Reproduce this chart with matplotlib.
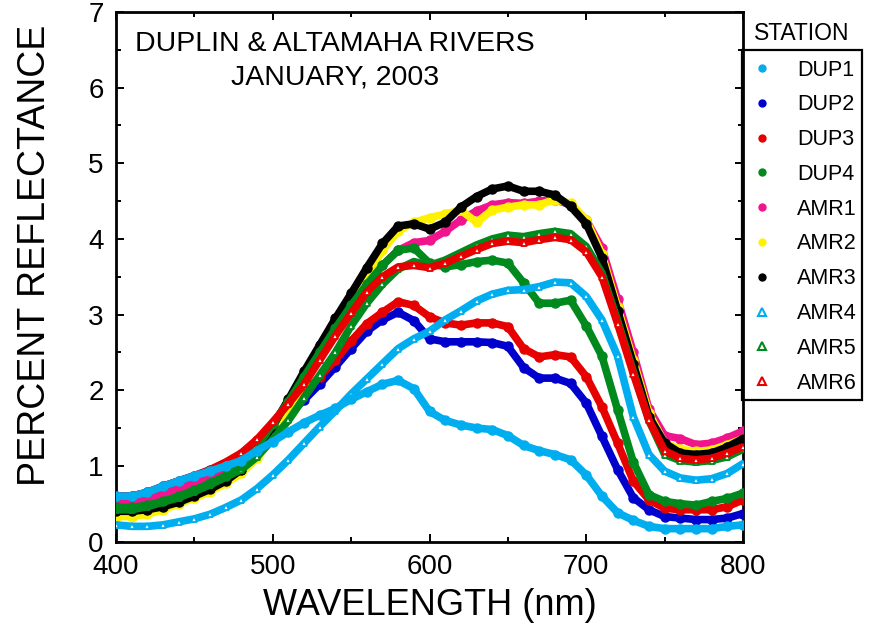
import numpy as np
import matplotlib
matplotlib.use("Agg")
import matplotlib.pyplot as plt
from matplotlib.lines import Line2D
from matplotlib.patches import Rectangle
from matplotlib.ticker import MultipleLocator

plt.rcParams["font.family"] = ["Liberation Sans", "DejaVu Sans"]

# Wavelength grid (nm)
wavelength = np.arange(400, 801, 10)

# Percent reflectance per station
dup1 = [0.60, 0.60, 0.65, 0.73, 0.80, 0.87, 0.93, 1.00, 1.07, 1.20, 1.32, 1.45, 1.57, 1.67, 1.76, 1.88,
        1.98, 2.08, 2.13, 2.02, 1.72, 1.60, 1.54, 1.50, 1.48, 1.40, 1.27, 1.20, 1.15, 1.08, 0.88, 0.60,
        0.38, 0.28, 0.20, 0.17, 0.17, 0.17, 0.17, 0.20, 0.22]
dup2 = [0.60, 0.60, 0.65, 0.73, 0.80, 0.87, 0.94, 1.03, 1.15, 1.32, 1.50, 1.68, 1.87, 2.08, 2.31, 2.55,
        2.78, 2.93, 3.03, 2.92, 2.68, 2.64, 2.64, 2.64, 2.63, 2.58, 2.30, 2.16, 2.16, 2.09, 1.83, 1.39,
        0.95, 0.58, 0.42, 0.33, 0.31, 0.29, 0.29, 0.31, 0.37]
dup3 = [0.56, 0.56, 0.61, 0.69, 0.77, 0.85, 0.93, 1.03, 1.16, 1.34, 1.54, 1.74, 1.96, 2.18, 2.40, 2.65,
        2.88, 3.03, 3.17, 3.12, 2.97, 2.89, 2.86, 2.89, 2.89, 2.84, 2.55, 2.44, 2.47, 2.44, 2.18, 1.78,
        1.30, 0.80, 0.55, 0.44, 0.42, 0.42, 0.42, 0.46, 0.55]
dup4 = [0.45, 0.45, 0.48, 0.53, 0.60, 0.68, 0.77, 0.87, 1.00, 1.25, 1.55, 1.85, 2.18, 2.50, 2.82, 3.12,
        3.40, 3.65, 3.85, 3.88, 3.68, 3.63, 3.66, 3.70, 3.72, 3.68, 3.42, 3.15, 3.15, 3.19, 2.85, 2.45,
        1.74, 1.05, 0.62, 0.53, 0.50, 0.48, 0.53, 0.57, 0.64]
amr1 = [0.53, 0.52, 0.56, 0.63, 0.70, 0.78, 0.87, 0.97, 1.10, 1.30, 1.55, 1.85, 2.15, 2.48, 2.80, 3.10,
        3.40, 3.65, 3.85, 3.95, 3.98, 4.10, 4.25, 4.37, 4.45, 4.48, 4.47, 4.50, 4.52, 4.45, 4.25, 3.88,
        3.20, 2.50, 1.75, 1.40, 1.36, 1.28, 1.30, 1.37, 1.46]
amr2 = [0.33, 0.33, 0.36, 0.42, 0.50, 0.57, 0.66, 0.77, 0.90, 1.10, 1.40, 1.75, 2.10, 2.45, 2.80, 3.15,
        3.50, 3.85, 4.10, 4.22, 4.28, 4.33, 4.38, 4.22, 4.38, 4.42, 4.45, 4.45, 4.52, 4.47, 4.25, 3.80,
        3.10, 2.40, 1.70, 1.30, 1.22, 1.19, 1.21, 1.28, 1.36]
amr3 = [0.40, 0.40, 0.42, 0.46, 0.52, 0.60, 0.69, 0.80, 0.95, 1.20, 1.52, 1.88, 2.25, 2.60, 2.95, 3.28,
        3.62, 3.94, 4.17, 4.20, 4.13, 4.22, 4.42, 4.56, 4.66, 4.70, 4.63, 4.63, 4.58, 4.43, 4.20, 3.75,
        3.05, 2.35, 1.65, 1.30, 1.17, 1.15, 1.17, 1.25, 1.36]
amr4 = [0.22, 0.20, 0.20, 0.22, 0.26, 0.30, 0.36, 0.45, 0.55, 0.70, 0.88, 1.08, 1.30, 1.52, 1.73, 1.95,
        2.15, 2.35, 2.55, 2.68, 2.78, 2.93, 3.05, 3.18, 3.27, 3.32, 3.33, 3.37, 3.43, 3.42, 3.24, 2.93,
        2.45, 1.65, 1.15, 0.93, 0.84, 0.81, 0.83, 0.90, 1.03]
amr5 = [0.42, 0.42, 0.46, 0.52, 0.58, 0.66, 0.75, 0.85, 0.95, 1.12, 1.35, 1.60, 1.90, 2.20, 2.50, 2.85,
        3.15, 3.40, 3.60, 3.70, 3.65, 3.72, 3.82, 3.92, 4.00, 4.05, 4.03, 4.07, 4.10, 4.07, 3.90, 3.55,
        2.92, 2.25, 1.60, 1.15, 1.07, 1.05, 1.07, 1.12, 1.22]
amr6 = [0.60, 0.60, 0.65, 0.73, 0.80, 0.87, 0.95, 1.05, 1.17, 1.35, 1.58, 1.82, 2.08, 2.40, 2.72, 3.02,
        3.30, 3.50, 3.63, 3.65, 3.62, 3.68, 3.77, 3.86, 3.94, 3.97, 3.95, 3.99, 4.02, 3.99, 3.83, 3.50,
        2.88, 2.22, 1.60, 1.20, 1.10, 1.08, 1.10, 1.17, 1.25]

stations = ["DUP1", "DUP2", "DUP3", "DUP4", "AMR1", "AMR2", "AMR3", "AMR4", "AMR5", "AMR6"]
values = [dup1, dup2, dup3, dup4, amr1, amr2, amr3, amr4, amr5, amr6]
colors = ["#00AEEF", "#0000CC", "#E60000", "#008A1E", "#F0158C", "#FFF200", "#000000",
          "#00AEEF", "#008A1E", "#E60000"]
markers = ["o", "o", "o", "o", "o", "o", "o", "^", "^", "^"]
zorders = [10, 4, 5, 8.6, 6, 7, 8, 9, 8.5, 8.7]

W, H = 873, 644
fig = plt.figure(figsize=(W / 100, H / 100), dpi=100)
ax = fig.add_axes([116 / W, 1 - 541.5 / H, (743 - 116) / W, (541.5 - 12) / H])

for name, vals, col, mk, zo in zip(stations, values, colors, markers, zorders):
    if mk == "o":
        ax.plot(wavelength, vals, color=col, lw=5.5, solid_capstyle="round",
                solid_joinstyle="round", marker="o", ms=6.5, mec=col, mfc=col, zorder=zo)
    else:
        ax.plot(wavelength, vals, color=col, lw=5.5, solid_capstyle="round",
                solid_joinstyle="round", zorder=zo)
        ax.plot(wavelength, vals, ls="none", marker="^", ms=5, mfc="white", mec=col,
                mew=1.3, zorder=zo + 0.05)

ax.set_xlim(400, 800)
ax.set_ylim(0, 7)
ax.xaxis.set_major_locator(MultipleLocator(100))
ax.xaxis.set_minor_locator(MultipleLocator(50))
ax.yaxis.set_major_locator(MultipleLocator(1))
ax.yaxis.set_minor_locator(MultipleLocator(0.5))
ax.tick_params(which="both", direction="in", top=True, right=True, width=1.4)
ax.tick_params(which="major", length=6, labelsize=20, pad=9)
ax.tick_params(which="minor", length=3.5)
for sp in ax.spines.values():
    sp.set_linewidth(2)

ax.set_xlabel("WAVELENGTH (nm)", fontsize=26, labelpad=6)
fig.text(35 / W, 1 - 255 / H, "PERCENT REFLECTANCE", rotation=90, fontsize=27,
         ha="center", va="center")

fig.text(335 / W, 1 - 44 / H, "DUPLIN & ALTAMAHA RIVERS", fontsize=20.5, ha="center", va="center")
fig.text(335 / W, 1 - 77 / H, "JANUARY, 2003", fontsize=20.5, ha="center", va="center")

# Station key to the right of the plot
fig.add_artist(Rectangle((742 / W, 1 - 400 / H), (862 - 742) / W, (400 - 50) / H,
                         transform=fig.transFigure, fill=False, lw=1.6, ec="black"))
fig.text(802 / W, 1 - 33 / H, "STATION", fontsize=16.5, ha="center", va="center")
for i, (name, col, mk) in enumerate(zip(stations, colors, markers)):
    yc = 70 + 34.8 * i
    if mk == "o":
        fig.add_artist(Line2D([762 / W], [1 - (yc - 2) / H], transform=fig.transFigure,
                              marker="o", ms=5, color=col, ls="none"))
    else:
        fig.add_artist(Line2D([762 / W], [1 - (yc - 2) / H], transform=fig.transFigure,
                              marker="^", ms=6, mfc="white", mec=col, mew=1.5, ls="none"))
    fig.text(797 / W, 1 - yc / H, name, fontsize=15.5, ha="left", va="center")

fig.savefig("out.png", dpi=100)
